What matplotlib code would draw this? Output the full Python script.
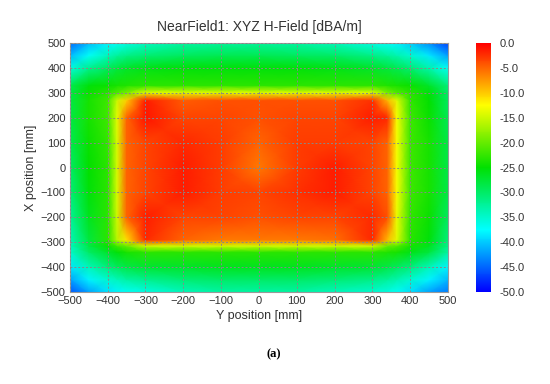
import numpy as np
import matplotlib
matplotlib.use('Agg')
import matplotlib.pyplot as plt
from matplotlib.colors import LinearSegmentedColormap

plt.rcParams['font.family'] = ['Liberation Sans', 'DejaVu Sans']

# measurement grid nodes [mm] (denser near the coil edges)
y_pos = [-500, -450, -400, -375, -350, -300, -200, -100, 0, 100, 200, 300, 340, 365, 400, 450, 500]
x_pos = [-500, -450, -400, -340, -315, -290, -200, -100, 0, 100, 200, 270, 300, 330, 400, 450, 500]

# H-field [dBA/m], one row per x_pos (bottom to top), one column per y_pos
h_field = [
    [-46, -42, -39, -38, -37, -36, -34, -33, -33, -33, -34, -35, -36, -37, -39, -42, -44],
    [-42, -38, -35, -34, -33, -32, -30.5, -30, -30, -30, -30.5, -31.5, -32.5, -33.5, -35, -38, -41],
    [-38.5, -34, -31, -29.5, -28.5, -27.5, -27, -26.5, -26.5, -26.5, -27, -27.5, -28.5, -29.5, -31, -34, -38],
    [-35, -30, -27, -25.5, -24, -23, -23, -23, -23, -23, -23, -23, -23.5, -24, -26, -28, -33],
    [-34.5, -28.5, -24.5, -22, -20, -15, -15, -15, -15, -15, -15, -15, -20, -21, -24, -26.5, -32],
    [-34, -28, -23, -16, -11, -2, -5, -6, -6, -6, -5.5, -2, -9, -14, -23, -25.5, -31],
    [-32.5, -26.5, -23, -15, -5, -1.5, -3.5, -3.5, -4, -3.5, -3.5, -2, -4, -13.5, -22.5, -24.5, -29.5],
    [-31, -25.5, -23, -14.5, -5, -3.5, -1.5, -3, -3.5, -2.5, -1.5, -3.5, -5, -13, -22, -24, -28.5],
    [-30, -25, -23, -14.5, -5, -3.5, -1.5, -3, -6, -3, -1.5, -3.5, -5, -13, -22, -24, -28.5],
    [-29, -24.5, -22.5, -14.5, -5, -3.5, -2, -3, -5, -3, -3, -3.5, -5, -13, -22, -24, -28.5],
    [-28.5, -24, -22, -14, -5, -1, -3.5, -3.5, -4, -3.5, -3.5, -1.5, -2, -13, -22, -24.5, -29],
    [-28.5, -24, -22, -15, -10, -1.5, -4.5, -4, -4, -4, -4, -2.5, -9, -14, -22.5, -25, -29.5],
    [-28.5, -24.5, -23, -21, -19, -14, -14, -14, -14, -14, -14, -14, -19, -21, -23, -25.5, -30],
    [-29, -25.5, -24.5, -24, -23.5, -23, -23, -23, -23, -23, -23, -23, -23.5, -24, -24.5, -27, -31],
    [-36, -32, -29.5, -28, -27, -26, -25.5, -25.5, -25.5, -25.5, -26, -27, -28, -29, -30.5, -33.5, -37],
    [-41, -37, -34, -32.5, -31.5, -30.5, -29.5, -29, -29, -29.5, -30, -31.5, -32.5, -33.5, -35, -38.5, -42],
    [-45, -41, -38, -37, -36, -34.5, -33, -32.5, -32.5, -33, -34, -36, -37, -38, -40, -43, -47],
]

ticks = [-500, -400, -300, -200, -100, 0, 100, 200, 300, 400, 500]
cbar_ticks = [0, -5, -10, -15, -20, -25, -30, -35, -40, -45, -50]

cmap = LinearSegmentedColormap.from_list(
    'field', ['#0000ff', '#00ffff', '#00e000', '#ffff00', '#ff0000'])

fig = plt.figure(figsize=(5.5, 3.84), dpi=100)
ax = fig.add_axes([0.127, 0.2396, 0.6875, 0.6484])
cax = fig.add_axes([0.8655, 0.2396, 0.027, 0.6484])

yy, xx = np.meshgrid(y_pos, x_pos)
mesh = ax.pcolormesh(yy, xx, np.array(h_field), cmap=cmap, vmin=-50, vmax=0,
                     shading='gouraud', rasterized=True)

ax.set_xlim(-500, 500)
ax.set_ylim(-500, 500)
ax.set_xticks(ticks)
ax.set_yticks(ticks)
ax.tick_params(length=0, labelsize=8, pad=3, colors='#333333')
ax.grid(True, color='#888888', linestyle=(0, (2, 2)), linewidth=0.7)
ax.set_axisbelow(False)
for s in ax.spines.values():
    s.set_color('#999999')
ax.set_xlabel('Y position [mm]', fontsize=9, color='#333333', labelpad=3)
ax.set_ylabel('X position [mm]', fontsize=9, color='#333333', labelpad=3)
ax.set_title('NearField1: XYZ H-Field [dBA/m]', fontsize=10, color='#333333', pad=9)

cbar = fig.colorbar(mesh, cax=cax, ticks=cbar_ticks, format='%.1f')
cbar.outline.set_visible(False)
cax.tick_params(length=0, labelsize=8, pad=6, colors='#333333')

fig.text(0.497, 0.077, '(a)', fontsize=9, fontweight='bold',
         family=['Liberation Serif', 'DejaVu Serif'], ha='center', va='center')

fig.savefig('out.png', dpi=100)
